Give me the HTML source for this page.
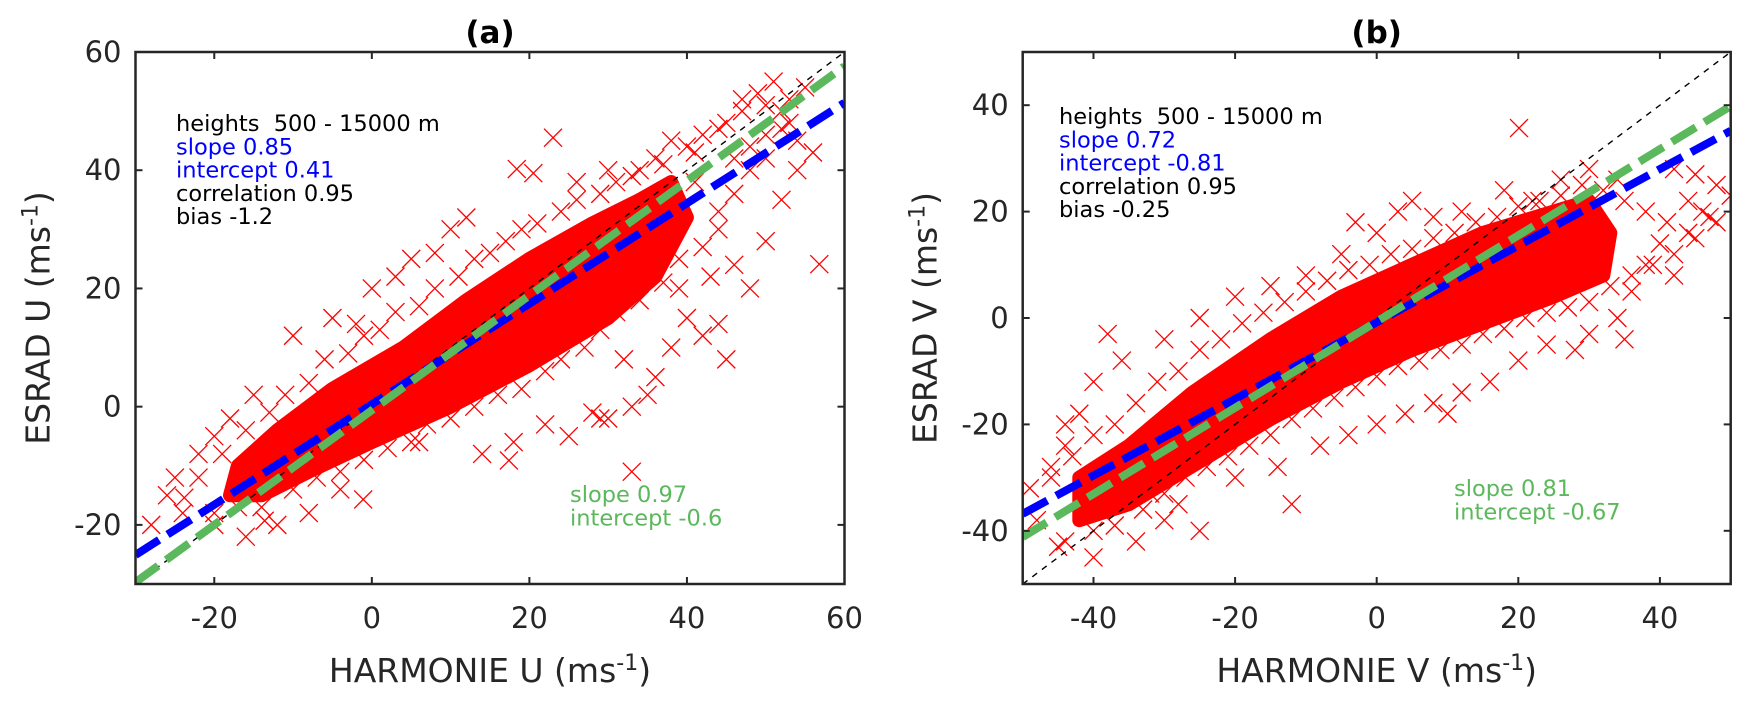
<!DOCTYPE html>
<html><head><meta charset="utf-8"><style>
html,body{margin:0;padding:0;background:#fff;}
svg{display:block;font-family:"DejaVu Sans","Liberation Sans",sans-serif;}
</style></head><body>
<svg id="fig" width="1752" height="706" viewBox="0 0 1752 706" xmlns="http://www.w3.org/2000/svg"></svg>
<script>
// ---- Panel (a) data ----
const aTitle = "(a)";
const aXTicks = [-20, 0, 20, 40, 60];
const aYTicks = [-20, 0, 20, 40, 60];
const aSlopeBlue = 0.85, aInterBlue = 0.41;
const aSlopeGreen = 0.97, aInterGreen = -0.6;
const aCoreX = [-17,-12,-5,4,12,20,28,34,38,40,36,30,20,10,0,-8,-14,-18];
const aCoreY = [-10,-4,3,10,18,25,31,35,38,32,22,15,7,0,-6,-11,-15,-15];
const aPtsX = [49,51,53,47,45,52,55,50,48,54,56,46,42,40,38,36,34,30,23,18.4,20.5,56.8,33,17.4,-1.1,-13.6,-23.8,40,42,44,45,38,36,35,33,30,28,25,22,18,14,32,48,46,50,52,54,44,-10,-5,0,3,5,8,10,-15,-18,-20,-22,-25,-24,-20,-16,-12,-8,-4,-26,-28,12,26,29,39,43,6,-2];
const aPtsY = [53,55,52,50,48,50,54,46,44,45,43,42,46,44,45,42,40,40,45.5,40.2,39.5,24.1,-11,-9.1,-15.7,-19.3,-15.4,15,12,14,8,10,5,2,0,-2,-1,-5,-3,-6,-8,8,20,24,28,35,40,30,12,15,20,22,25,26,30,2,-2,-5,-8,-12,-18,-20,-22,-20,-18,-14,-15,-20,32,38,-2,20,22,-6,14];
const aEdgeX = [-22,-19,-16,-13,-11,-8,-6,-3,-1,1,3,6,8,11,13,15,17,19,21,24,26,29,31,33,37,41,44,47,50,52,-20,-17,-14,-10,-7,-4,-1,2,5,7,10,13,16,19,22,24,27,29,31,34,37,39,42,44,46,48,50,53,41,38];
const aEdgeY = [-12,-8,-4,-1,2,4,8,9,12,13,16,17,20,22,25,26,28,30,31,33,35,36,38,39,41,43,47,52,51,47,-18,-17,-17,-14,-12,-11,-9,-7,-6,-3,-2,0,2,3,6,8,10,13,16,18,21,25,27,33,36,40,42,48,38,30];
// ---- Panel (b) data ----
const bTitle = "(b)";
const bXTicks = [-40, -20, 0, 20, 40];
const bYTicks = [-40, -20, 0, 20, 40];
const bSlopeBlue = 0.72, bInterBlue = -0.81;
const bSlopeGreen = 0.81, bInterGreen = -0.67;
const bCoreX = [-42,-35,-26,-15,-5,5,15,25,30,33,32,25,15,5,-5,-15,-25,-35,-42];
const bCoreY = [-30,-24,-14,-4,4,10,16,20,22,16,8,4,-1,-6,-12,-19,-27,-35,-38];
const bPtsX = [20.1,42,45,48,50,46,44,40,38,42,36,34,30,28,24,35,20,16,12,8,4,0,-4,-8,-14,-20,-28,-34,-40,-45,-48,-49,-46,-44,-42,-40,-36,-30,-25,-20,-15,-10,-5,0,3,5,8,12,18,22,26,30,34,-38,-44,-30,-12,-25,-3,10,-32];
const bPtsY = [35.7,28,27,25,23,20,16,14,10,8,5,0,-3,-6,-5,-4,-8,-12,-14,-16,-18,-20,-22,-24,-28,-30,-35,-42,-45,-43,-38,-32,-28,-24,-18,-12,-8,-4,0,4,6,8,12,16,20,22,19,20,24,22,26,28,26,-3,-20,-38,-35,-40,18,-18,-33];
const bEdgeX = [-46,-43,-40,-37,-34,-31,-28,-25,-22,-19,-16,-13,-10,-7,-4,-1,2,5,8,11,14,17,20,23,26,29,32,35,38,41,44,47,-44,-40,-37,-33,-30,-27,-24,-21,-18,-15,-12,-9,-6,-3,0,3,6,9,12,15,18,21,24,27,30,33,36,39,42,45,48];
const bEdgeY = [-30,-26,-22,-20,-16,-12,-10,-6,-4,-1,1,3,5,7,9,10,12,13,15,16,18,19,21,22,23,25,24,22,20,18,22,19,-42,-40,-39,-36,-33,-30,-28,-26,-24,-22,-19,-17,-15,-13,-11,-9,-8,-6,-5,-3,-2,0,1,2,3,6,8,10,12,15,18];

const svg = document.getElementById('fig');
const NS = "http://www.w3.org/2000/svg";
function mk(tag, attrs, parent){ const e=document.createElementNS(NS,tag); for(const k in attrs) e.setAttribute(k,attrs[k]); (parent||svg).appendChild(e); return e; }

function panel(cfg){
  const {L,R,T,B,xmin,xmax,ymin,ymax,id} = cfg;
  const sx = v => L + (v-xmin)/(xmax-xmin)*(R-L);
  const sy = v => B - (v-ymin)/(ymax-ymin)*(B-T);
  const g = mk('g',{});
  
  
  const clip = mk('clipPath',{id:'clip-'+id}, g);
  mk('rect',{x:L,y:T,width:R-L,height:B-T},clip);
  const plot = mk('g',{'clip-path':'url(#clip-'+id+')'}, g);
  let d = cfg.coreX.map((x,i)=>(i?'L':'M')+sx(x).toFixed(1)+','+sy(cfg.coreY[i]).toFixed(1)).join('')+'Z';
  const core = mk('path',{d:d,fill:'#ff0000',stroke:'#ff0000','stroke-width':14,'stroke-linejoin':'round'},plot);
  
  
  const px = cfg.ptsX.concat(cfg.edgeX), py = cfg.ptsY.concat(cfg.edgeY);
  px.forEach((x,i)=>{
    const cx=sx(x), cy=sy(py[i]), h=9;
    const m = mk('path',{d:`M${cx-h},${cy-h}L${cx+h},${cy+h}M${cx-h},${cy+h}L${cx+h},${cy-h}`,stroke:'#ff0000','stroke-width':1.3,fill:'none'},plot);
    
    
  });
  const one = mk('line',{x1:sx(xmin),y1:sy(xmin),x2:sx(xmax),y2:sy(xmax),stroke:'#000','stroke-width':1.4,'stroke-dasharray':'6 6'},plot);
  
  
  const bl = mk('line',{x1:sx(xmin),y1:sy(cfg.sb*xmin+cfg.ib),x2:sx(xmax),y2:sy(cfg.sb*xmax+cfg.ib),stroke:'#0000ff','stroke-width':8,'stroke-dasharray':'28 10'},plot);
  
  
  const gl = mk('line',{x1:sx(xmin),y1:sy(cfg.sg*xmin+cfg.ig),x2:sx(xmax),y2:sy(cfg.sg*xmax+cfg.ig),stroke:'#5cb85c','stroke-width':8,'stroke-dasharray':'28 10'},plot);
  
  
  const box = mk('rect',{x:L,y:T,width:R-L,height:B-T,fill:'none',stroke:'#262626','stroke-width':2.5},g);
  
  
  cfg.xt.forEach(v=>{
    const x=sx(v);
    mk('line',{x1:x,y1:B,x2:x,y2:B-7,stroke:'#262626','stroke-width':2},g);
    mk('line',{x1:x,y1:T,x2:x,y2:T+7,stroke:'#262626','stroke-width':2},g);
    const t=mk('text',{x:x,y:B+44,'text-anchor':'middle','font-size':29,fill:'#262626'},g);
    t.textContent=v;
    
    
  });
  cfg.yt.forEach(v=>{
    const y=sy(v);
    mk('line',{x1:L,y1:y,x2:L+7,y2:y,stroke:'#262626','stroke-width':2},g);
    mk('line',{x1:R,y1:y,x2:R-7,y2:y,stroke:'#262626','stroke-width':2},g);
    const t=mk('text',{x:L-14,y:y+10,'text-anchor':'end','font-size':29,fill:'#262626'},g);
    t.textContent=v;
    
    
  });
  const tt=mk('text',{x:(L+R)/2,y:43,'text-anchor':'middle','font-size':31,'font-weight':'bold',fill:'#000'},g);
  tt.textContent=cfg.title;
  
  
  const xl=mk('text',{x:(L+R)/2,y:682,'text-anchor':'middle','font-size':33,fill:'#262626'},g);
  xl.innerHTML=cfg.xlabel+' (ms<tspan dy="-12" font-size="22">-1</tspan><tspan dy="12">)</tspan>';
  
  
  const yl=mk('text',{x:0,y:0,'text-anchor':'middle','font-size':33,fill:'#262626',transform:`translate(${L-86},${(T+B)/2}) rotate(-90)`},g);
  yl.innerHTML=cfg.ylabel+' (ms<tspan dy="-12" font-size="22">-1</tspan><tspan dy="12">)</tspan>';
  
  
  const lines = [['heights  500 - 15000 m','#000'],['slope '+cfg.sb,'#0000ff'],['intercept '+cfg.ib,'#0000ff'],['correlation 0.95','#000'],['bias '+cfg.bias,'#000']];
  lines.forEach((ln,i)=>{
    const t=mk('text',{x:cfg.ax,y:cfg.ay+i*23.3,'font-size':22.5,fill:ln[1]},g);
    t.textContent=ln[0];
    t.style.whiteSpace='pre';
    
    
  });
  [['slope '+cfg.sg],['intercept '+cfg.ig]].forEach((ln,i)=>{
    const t=mk('text',{x:cfg.gx,y:cfg.gy+i*23.3,'font-size':22.5,fill:'#5cb85c'},g);
    t.textContent=ln[0];
    
    
  });
}

panel({id:'a',L:135.5,R:844.5,T:52,B:584,xmin:-30,xmax:60,ymin:-30,ymax:60,xt:aXTicks,yt:aYTicks,
  coreX:aCoreX,coreY:aCoreY,ptsX:aPtsX,ptsY:aPtsY,edgeX:aEdgeX,edgeY:aEdgeY,sb:aSlopeBlue,ib:aInterBlue,sg:aSlopeGreen,ig:aInterGreen,
  title:aTitle,xlabel:'HARMONIE U',ylabel:'ESRAD U',bias:'-1.2',ax:176,ay:131,gx:570,gy:502});
panel({id:'b',L:1022.7,R:1730.7,T:52,B:584,xmin:-50,xmax:50,ymin:-50,ymax:50,xt:bXTicks,yt:bYTicks,
  coreX:bCoreX,coreY:bCoreY,ptsX:bPtsX,ptsY:bPtsY,edgeX:bEdgeX,edgeY:bEdgeY,sb:bSlopeBlue,ib:bInterBlue,sg:bSlopeGreen,ig:bInterGreen,
  title:bTitle,xlabel:'HARMONIE V',ylabel:'ESRAD V',bias:'-0.25',ax:1059,ay:124,gx:1454,gy:496});
</script>
</body></html>
